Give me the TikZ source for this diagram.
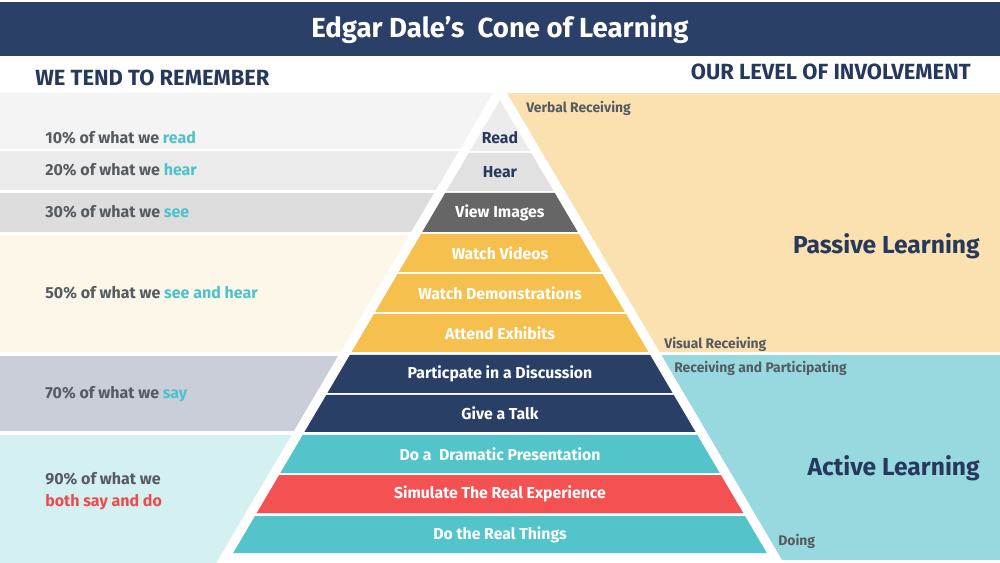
\documentclass[tikz,border=0pt]{standalone}
\usepackage{fontspec}
\setmainfont{Fira Sans}

\definecolor{titleNavy}{HTML}{2B4068}
\definecolor{textNavy}{HTML}{26395D}
\definecolor{textGray}{HTML}{555B61}
\definecolor{accentTeal}{HTML}{4CC3C9}
\definecolor{accentRed}{HTML}{EE4B4F}
\definecolor{rowRead}{HTML}{ECECEC}
\definecolor{rowHear}{HTML}{E1E1E1}
\definecolor{rowView}{HTML}{666666}
\definecolor{rowAmber}{HTML}{F6C04F}
\definecolor{rowNavy}{HTML}{2A3F66}
\definecolor{rowTeal}{HTML}{52C4CA}
\definecolor{rowRed}{HTML}{F45153}
\definecolor{panelPeach}{HTML}{FBE0B0}
\definecolor{panelTeal}{HTML}{98D9E0}
\definecolor{leftRead}{HTML}{F4F4F4}
\definecolor{leftHear}{HTML}{EBEBEB}
\definecolor{leftSee}{HTML}{DDDDDD}
\definecolor{leftBoth}{HTML}{FDF7EA}
\definecolor{leftSay}{HTML}{C9CED8}
\definecolor{leftDo}{HTML}{D4F0F1}

% one band of the cone: name, top, bottom, label y, fill, text colour, label
\newcommand{\coneRow}[7]{%
  \pgfmathsetmacro{\halfTop}{0.589*(#2-100)}%
  \pgfmathsetmacro{\halfBot}{0.589*(#3-100)}%
  \fill[#5] ({500-\halfTop},#2) -- ({500+\halfTop},#2) -- ({500+\halfBot},#3) -- ({500-\halfBot},#3) -- cycle;
  \node[rowlabel,text=#6] (#1) at (500,#4) {#7};}

\newcommand{\rememberPanel}[6]{%
  \fill[#4] (0,#2) rectangle (500,#3);
  \node[leftlabel] (#1) at (45,#5) {#6};}

\newcommand{\hi}[1]{\textcolor{accentTeal}{#1}}

\begin{document}
\begin{tikzpicture}[x=0.02cm,y=-0.02cm,
  rowlabel/.style={font=\fontsize{9}{11}\selectfont\bfseries,inner sep=0pt},
  leftlabel/.style={anchor=west,font=\fontsize{9.1}{12.5}\selectfont\bfseries,text=textGray,align=left,inner sep=0pt},
  heading/.style={font=\fontsize{12.5}{14}\selectfont\bfseries,text=textNavy,inner sep=0pt},
  sidelabel/.style={anchor=west,font=\fontsize{7.9}{10}\selectfont\bfseries,text=textGray,inner sep=0pt},
  biglabel/.style={anchor=east,font=\fontsize{14}{16}\selectfont\bfseries,text=textNavy,inner sep=0pt}]
  \path[use as bounding box] (0,0) rectangle (1000,563);

  \fill[titleNavy] (0,2) rectangle (1000,56);
  \node[font=\fontsize{15.7}{18}\selectfont\bfseries,text=white] (title) at (500,29) {Edgar Dale’s\ \ Cone of Learning};
  \node[heading,anchor=west] (remember) at (35,78) {WE TEND TO REMEMBER};
  \node[heading,anchor=east] (involve) at (971,72) {OUR LEVEL OF INVOLVEMENT};

  \rememberPanel{pRead}{93}{149}{leftRead}{138}{10\% of what we \hi{read}}
  \rememberPanel{pHear}{151}{190}{leftHear}{170}{20\% of what we \hi{hear}}
  \rememberPanel{pSee}{193}{232}{leftSee}{212}{30\% of what we \hi{see}}
  \rememberPanel{pBoth}{235}{352}{leftBoth}{293}{50\% of what we \hi{see and hear}}
  \rememberPanel{pSay}{356}{431}{leftSay}{394}{70\% of what we \hi{say}}
  \rememberPanel{pDo}{435}{563}{leftDo}{491}{90\% of what we\\\textcolor{accentRed}{both say and do}}

  \fill[panelPeach] (500,93) rectangle (1000,352);
  \fill[panelTeal] (500,355) rectangle (1000,560);
  \fill[white] (500,81.3) -- (216.3,563) -- (783.7,563) -- cycle;

  \coneRow{read}{100}{151}{138}{rowRead}{textNavy}{Read}
  \coneRow{hear}{153}{191}{172}{rowHear}{textNavy}{Hear}
  \coneRow{view}{193}{232}{212.5}{rowView}{white}{View Images}
  \coneRow{videos}{234}{272}{253}{rowAmber}{white}{Watch Videos}
  \coneRow{demos}{274}{312}{293}{rowAmber}{white}{Watch Demonstrations}
  \coneRow{exhibits}{314}{352}{333}{rowAmber}{white}{Attend Exhibits}
  \coneRow{discuss}{355}{393}{374}{rowNavy}{white}{Particpate in a Discussion}
  \coneRow{talk}{395}{432}{413.5}{rowNavy}{white}{Give a Talk}
  \coneRow{drama}{435}{473}{454}{rowTeal}{white}{Do a\ \ Dramatic Presentation}
  \coneRow{simulate}{475}{513}{494}{rowRed}{white}{Simulate The Real Experience}
  \coneRow{real}{516}{553}{534.5}{rowTeal}{white}{Do the Real Things}

  \node[sidelabel] (verbal) at (526,108) {Verbal Receiving};
  \node[sidelabel] (visual) at (664,344) {Visual Receiving};
  \node[sidelabel] (participating) at (674,368) {Receiving and Participating};
  \node[sidelabel] (doing) at (778,541) {Doing};
  \node[biglabel] (passive) at (980,246) {Passive Learning};
  \node[biglabel] (active) at (980,468) {Active Learning};
\end{tikzpicture}
\end{document}
